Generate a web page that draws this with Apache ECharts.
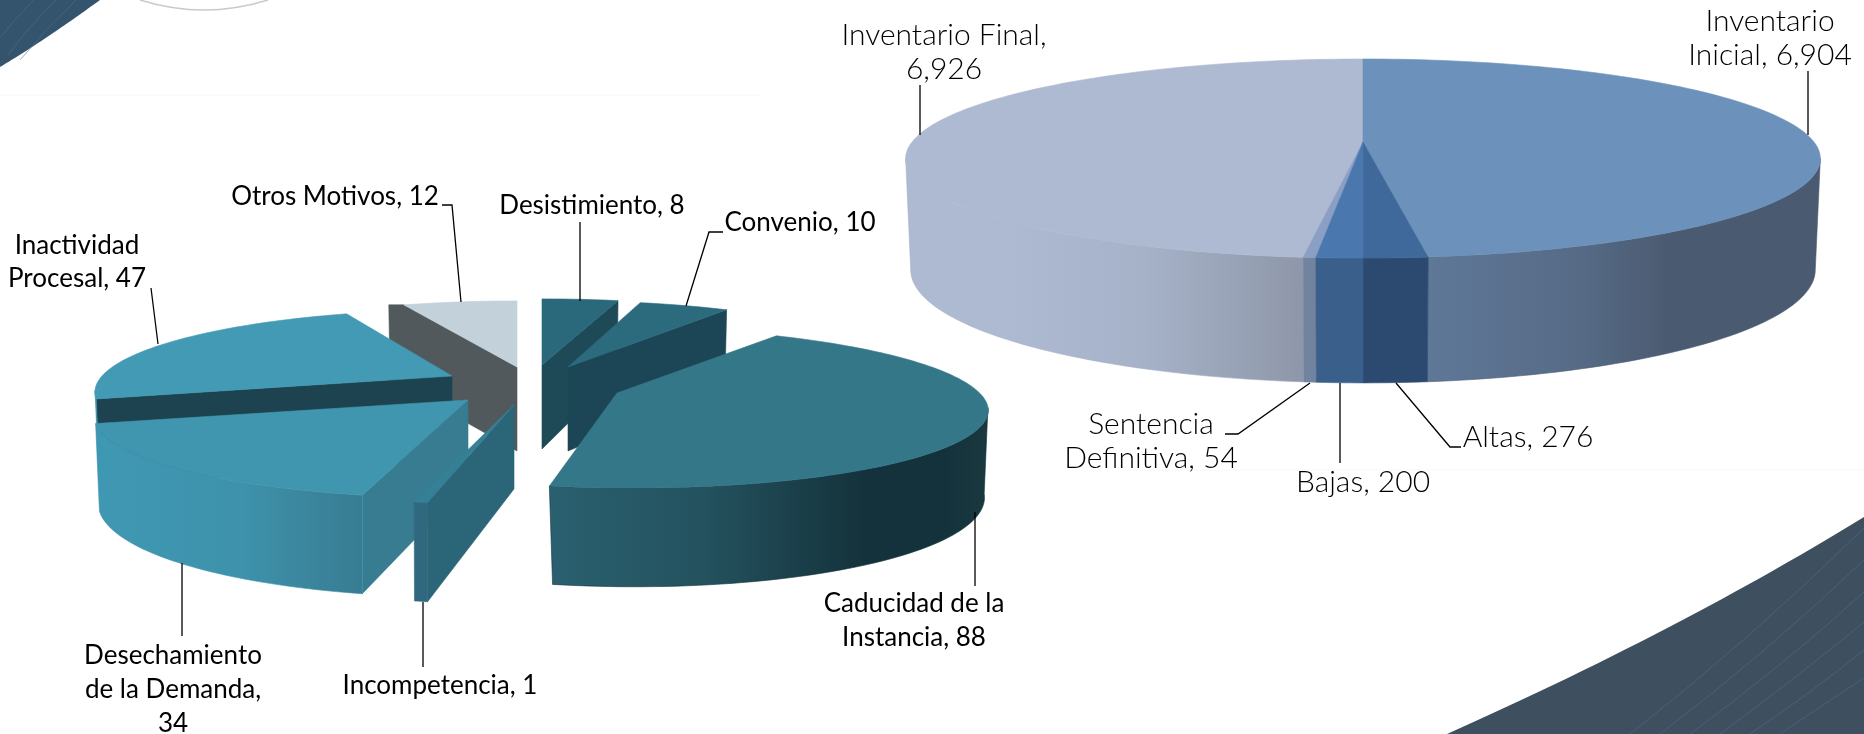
<!DOCTYPE html>
<html><head><meta charset="utf-8">
<style>html,body{margin:0;padding:0;background:#fff}#c{width:1864px;height:734px}</style>
<script src="https://cdn.jsdelivr.net/npm/echarts@6/dist/echarts.min.js"></script>
</head><body><div id="c"></div>
<script>
// ---------- data (clockwise from 12 o'clock) ----------
const motivoNames = ['Desistimiento','Convenio','Caducidad de la\nInstancia','Incompetencia','Desechamiento\nde la Demanda','Inactividad\nProcesal','Otros Motivos'];
const motivoValues = [8,10,88,1,34,47,12];
const inventarioNames = ['Inventario\nInicial','Altas','Bajas','Sentencia\nDefinitiva','Inventario Final'];
const inventarioValues = [6904,276,200,54,6926];

// ---------- styling / layout (no data) ----------
// ox,oy: explosion offset; sx,sy: per-slice perspective scale; sh: perspective shear
const leftStyle = [
 {top:'#2A697B',cut:'#1E4A58',wall:['#2A697B','#2A697B'],ox:32,oy:-7},
 {top:'#2B6B7D',cut:'#1C4655',wall:['#2B6B7D','#2B6B7D'],ox:58,oy:-5,sx:.95},
 {top:'#347789',cut:'#2A6678',wall:['#2A6070','#24525F','#14323B','#14323B','#193840'],stops:[0,.35,.72,.9,1],ox:107,oy:21,sx:1.01,sh:.16},
 {top:'#368097',cut:'#2A6678',wall:['#30697F','#30697F'],ox:4,oy:33,sh:-.05,sy:1.05},
 {top:'#4095AF',cut:'#377C90',wall:['#3F98B3','#3E92AB','#377C92'],stops:[0,.55,1],ox:-42,oy:28,sx:1.02,sh:-.09,sy:1.03},
 {top:'#439AB5',cut:'#1D4350',wall:['#3F94AE','#3F94AE'],ox:-58,oy:4,sx:.975,sh:-.08},
 {top:'#C3D2DA',cut:'#52595D',wall:['#52595D','#52595D'],ox:7,oy:-5,cutBack:15}
];
const rightStyle = [
 {top:'#6C92BB',wall:['#5F7898','#566A85','#4A5A70','#4A5A70'],stops:[0,.4,.62,1]},
 {top:'#40699B',wall:['#2C4A70','#2C4A70']},
 {top:'#4A78AE',wall:['#3B5F8B','#3B5F8B']},
 {top:'#8B9FC5',wall:['#72839F','#72839F']},
 {top:'#AEBAD2',wall:['#AEBAD2','#AEBAD2','#A6B2C8','#8E97A9'],stops:[0,.25,.6,1]}
];
const leftGeom = {cx:510,cy:372,a:359,b:78,k:.18, dy:84,a2:355,b2:90, cuts:true, order:[6,0,1,5,2,4,3]};
const rightGeom = {cx:1363,cy:142,a:451,b:96.8,k:.166, dy:109,a2:446,b2:110, cuts:false, order:[4,3,0,1,2]};

function cumulative(vals){
  const tot=vals.reduce((s,v)=>s+v,0); let acc=0;
  return vals.map(v=>{const s=acc/tot*360; acc+=v; return [s,acc/tot*360];});
}
function pt(g,deg,bottom,st){
  const t=deg*Math.PI/180,u=Math.sin(t),v=-Math.cos(t),w=1-g.k*v;
  const A=(bottom?g.a2:g.a)*(st.sx||1),B=(bottom?g.b2:g.b)*(st.sy||1),Y=bottom?g.cy+g.dy:g.cy;
  const py=B*v/w;
  return [g.cx+(st.ox||0)+A*u/w+(st.sh||0)*py, Y+(st.oy||0)+py];
}
function arc(g,s,e,bottom,st){
  const out=[],n=Math.max(2,Math.ceil((e-s)/1.5));
  for(let i=0;i<=n;i++) out.push(pt(g,s+(e-s)*i/n,bottom,st));
  return out;
}
function poly(points,fill){
  const solid=typeof fill==='string'?fill:fill.colorStops[Math.floor(fill.colorStops.length/2)].color;
  return {type:'polygon',shape:{points},style:{fill,stroke:solid,lineWidth:.6}};
}
function grad(st){
  const n=st.wall.length,stops=st.stops||st.wall.map((_,i)=>i/(n-1));
  return {type:'linear',x:0,y:0,x2:1,y2:0,colorStops:st.wall.map((c,i)=>({offset:stops[i],color:c}))};
}
function makeRender(g,angles,styles){
  const sil=Math.asin(g.k)*180/Math.PI; // silhouette angle of the tilted rim
  return function(params,api){
    const idx=api.value(1),[s,e]=angles[idx],st=styles[idx],children=[];
    const ax=g.cx+(st.ox||0),ay=g.cy+(st.oy||0),at=[ax,ay],ab=[ax,ay+g.dy];
    if(g.cuts){
      if(s%360>=180){
        const p=pt(g,s,false,st),q=pt(g,s,true,st),back=st.cutBack||0;
        children.push(poly([at,p,[p[0]-back,p[1]],[q[0]-back,q[1]],ab],st.cut));
      }
      if(e>0&&e<180) children.push(poly([at,pt(g,e,false,st),pt(g,e,true,st),ab],st.cut));
    }
    const ws=Math.max(s,90+sil),we=Math.min(e,270-sil);
    if(we>ws) children.push(poly(arc(g,ws,we,false,st).concat(arc(g,ws,we,true,st).reverse()),grad(st)));
    children.push(poly([at].concat(arc(g,s,e,false,st)),st.top));
    return {type:'group',children};
  };
}
function pieSeries(g,names,vals,styles){
  const angles=cumulative(vals);
  return {type:'custom',coordinateSystem:'none',silent:true,animation:false,clip:false,
    renderItem:makeRender(g,angles,styles),
    data:g.order.map(i=>({name:names[i],value:[vals[i],i]}))};
}

const fmt=v=>v.toLocaleString('en-US');
const L='Lato',R='Lato';
const labelLayout=[
 // left pie
 {n:motivoNames[0],v:motivoValues[0],x:592,y:206,f:L,s:26,lw:400},
 {n:motivoNames[1],v:motivoValues[1],x:800,y:223,f:L,s:26,lw:400},
 {n:motivoNames[2],v:motivoValues[2],x:914,y:621,f:L,s:26,lh:34,lw:400},
 {n:motivoNames[3],v:motivoValues[3],x:440,y:686,f:L,s:26,lw:400},
 {n:motivoNames[4],v:motivoValues[4],sep:',\n',x:173,y:690,f:L,s:26,lh:34,lw:400},
 {n:motivoNames[5],v:motivoValues[5],x:77,y:262,f:L,s:26,lh:33,lw:400},
 {n:motivoNames[6],v:motivoValues[6],x:335,y:197,f:L,s:26,lw:400},
 // right pie
 {n:inventarioNames[0],v:inventarioValues[0],x:1770,y:38,f:R,s:30,lh:34,lw:300},
 {n:inventarioNames[1],v:inventarioValues[1],x:1528,y:437,f:R,s:30,lw:300},
 {n:inventarioNames[2],v:inventarioValues[2],x:1363,y:482,f:R,s:30,lw:300},
 {n:inventarioNames[3],v:inventarioValues[3],x:1151,y:441,f:R,s:30,lh:34,lw:300},
 {n:inventarioNames[4],v:inventarioValues[4],sep:',\n',x:944,y:52,f:R,s:30,lh:34,lw:300}
];
const leaders=[
 [[442,205],[452,205],[461,302]],[[580,222],[580,301]],[[723,232],[709,232],[686,306]],
 [[151,288],[158,344]],[[975,512],[975,586]],[[182,563],[182,636]],[[423,602],[423,667]],
 [[920,85],[920,135]],[[1808,71],[1808,135]],[[1225,434],[1238,434],[1310,383]],
 [[1340,383],[1340,463]],[[1396,383],[1450,447],[1461,447]]
];
// decorative background: [x0,y0, cx,cy, x1,y1]
const bgStripes=[
 [1630,734,1750,640,1864,528],[1660,734,1770,650,1864,560],[1690,734,1790,660,1864,592],
 [1720,734,1800,675,1864,622],[1750,734,1815,690,1864,650],[1780,734,1830,700,1864,678],
 [20,60,45,30,76,0],[8,55,30,25,56,0],[0,38,15,18,34,0]
];
function quad(x0,y0,cx,cy,x1,y1){
  const o=[];for(let i=0;i<=30;i++){const t=i/30,m=1-t;o.push([m*m*x0+2*m*t*cx+t*t*x1,m*m*y0+2*m*t*cy+t*t*y1]);}
  return o;
}
const graphics=[
 {type:'polygon',silent:true,z:0,shape:{points:[[0,0]].concat(quad(100,0,45,40,0,67))},style:{fill:'#34536C'}},
 {type:'polygon',silent:true,z:0,shape:{points:quad(1447,734,1680,630,1864,517).concat([[1864,734]])},style:{fill:'#3E4F5F'}},
 {type:'bezierCurve',silent:true,z:0,shape:{x1:140,y1:0,cpx1:204,cpy1:20,x2:268,y2:0},style:{fill:'none',stroke:'#C9C9C9',lineWidth:1.5}},
 {type:'line',silent:true,z:0,shape:{x1:0,y1:95,x2:760,y2:95},style:{stroke:'#F8F8F8',lineWidth:1}},
 {type:'line',silent:true,z:0,shape:{x1:1120,y1:470,x2:1864,y2:470},style:{stroke:'#F8F8F8',lineWidth:1}}
];
bgStripes.forEach(d=>graphics.push({type:'bezierCurve',silent:true,z:0,shape:{x1:d[0],y1:d[1],cpx1:d[2],cpy1:d[3],x2:d[4],y2:d[5]},style:{fill:'none',stroke:'#58708A',opacity:.55,lineWidth:1}}));
leaders.forEach(p=>graphics.push({type:'polyline',silent:true,z:50,shape:{points:p},style:{fill:'none',stroke:'#000',lineWidth:1.3}}));
labelLayout.forEach(l=>graphics.push({type:'text',silent:true,z:60,x:l.x,y:l.y,style:{
  text:l.n+(l.sep||', ')+fmt(l.v),align:'center',verticalAlign:'middle',textAlign:'center',textVerticalAlign:'middle',
  fontFamily:l.f,fontSize:l.s,fontWeight:l.lw,lineHeight:l.lh||l.s*1.2,fill:'#000'}}));

const chart=echarts.init(document.getElementById('c'));
chart.setOption({
  animation:false,backgroundColor:'#fff',
  graphic:graphics,
  series:[pieSeries(rightGeom,inventarioNames,inventarioValues,rightStyle),
          pieSeries(leftGeom,motivoNames,motivoValues,leftStyle)]
});
</script></body></html>
